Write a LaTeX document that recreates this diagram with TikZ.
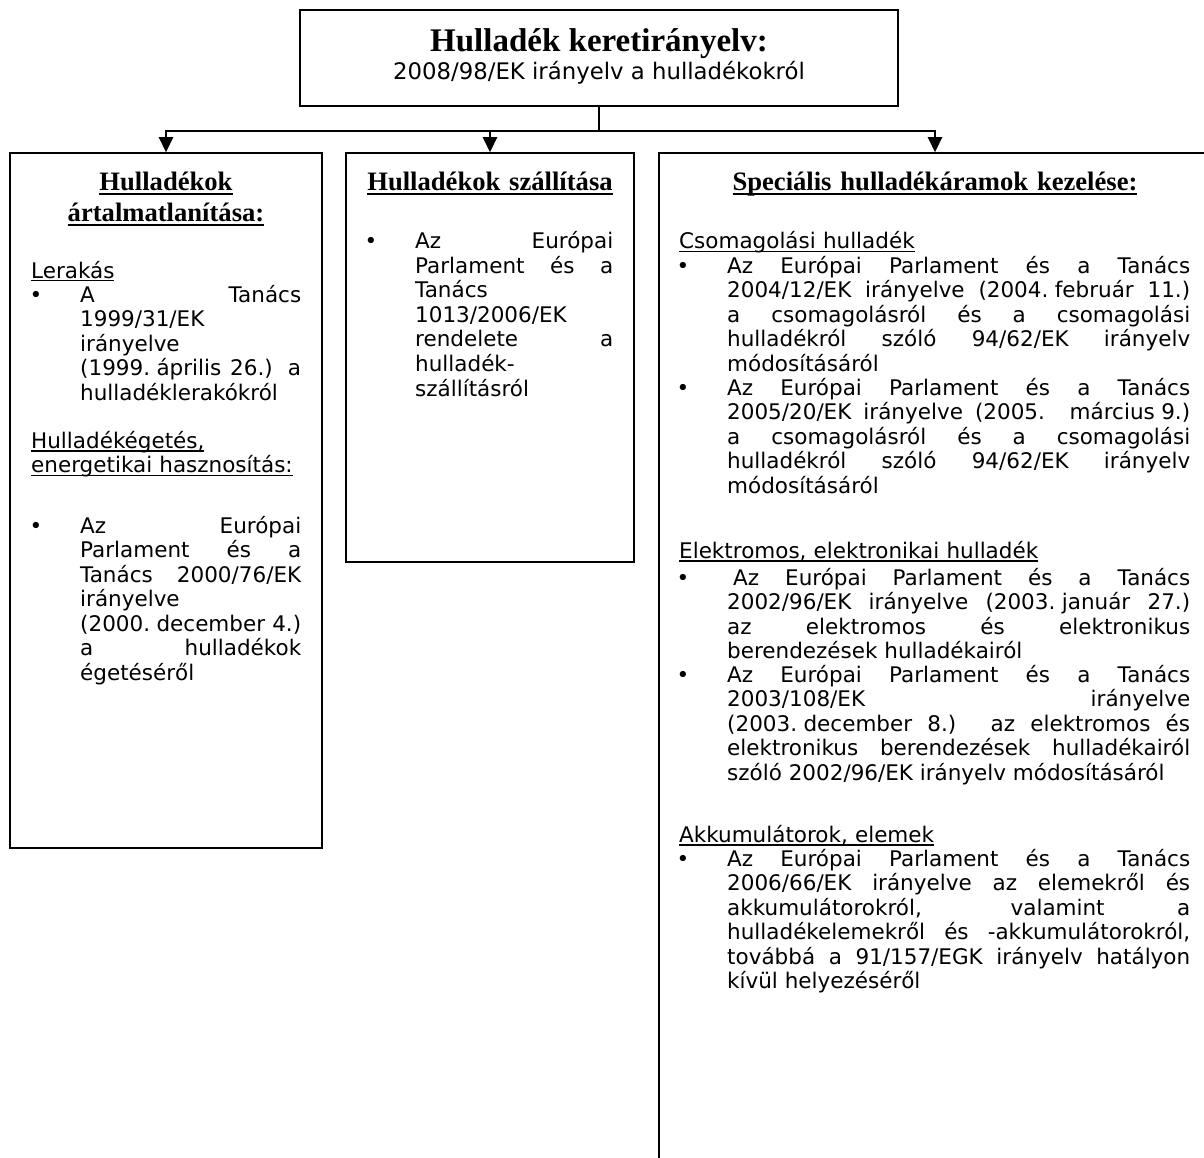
\documentclass[tikz,border=0pt]{standalone}
\usepackage{fontspec}
\setmainfont{DejaVu Sans}
\newfontfamily\headfont{Liberation Serif}
\usetikzlibrary{arrows.meta}

\newcommand{\bodysize}{\fontsize{21.5pt}{24.5pt}\selectfont\tolerance=10000\hyphenpenalty=10000\hbadness=10000}
\newcommand{\headsize}{\headfont\bfseries\fontsize{26.6pt}{30.5pt}\selectfont}
\newcommand{\undl}[2][1.3pt]{\leavevmode\setbox0\hbox{#2}\rlap{\rule[-3.5pt]{\wd0}{#1}}\box0}
\newcommand{\hundl}[1]{\leavevmode\setbox0\hbox{#1}\rlap{\rule[-4.5pt]{\wd0}{2pt}}\box0}
\newcommand{\bul}{\leavevmode\llap{\textbullet\hspace{38pt}}}
\newcommand{\fixsp}{\nobreak\hspace{.3em}}

\begin{document}
\begin{tikzpicture}[
    x=1pt, y=-1pt,
    box/.style={rectangle, draw, line width=1.5pt, inner sep=0pt},
    conn/.style={line width=2.2pt},
    arrow/.style={conn, -{Triangle[width=14pt,length=15pt]}},
    headline/.style={font=\headsize, anchor=base, inner sep=0pt, text width=300pt, align=center},
    sub/.style={font=\bodysize, anchor=base west, inner sep=0pt, text width=280pt, align=left},
    body/.style={font=\bodysize, anchor=base west, inner sep=0pt, align=justify}
]
    \useasboundingbox (0,0) rectangle (1204,1158);
    \fill[white] (0,0) rectangle (1204,1158);
    \clip (0,0) rectangle (1204,1158);

    % Framework directive
    \node[box, minimum width=598pt, minimum height=96pt] (head) at (599,58) {};
    \node[font=\headfont\bfseries\fontsize{33pt}{37pt}\selectfont, anchor=base, inner sep=0pt] (title) at (599,52) {Hulladék keretirányelv:};
    \node[font=\fontsize{22.8pt}{26pt}\selectfont, anchor=base, inner sep=0pt] (subtitle) at (599,80) {2008/98/EK irányelv a hulladékokról};

    % Three branches
    \node[box, minimum width=312pt, minimum height=695pt] (dispose) at (166,500.5) {};
    \node[box, minimum width=288pt, minimum height=409pt] (transport) at (490,357.5) {};
    \node[box, minimum width=552pt, minimum height=1047pt] (special) at (935,676.5) {};

    % Arrows
    \coordinate (bus) at (599,131);
    \draw[conn] (head.south) -- (bus);
    \draw[arrow] (bus) -| (dispose.north);
    \draw[arrow] (bus) -| (transport.north);
    \draw[arrow] (bus) -| (special.north);

    % Disposal
    \node[headline] (h1) at (166,191) {\hundl{Hulladékok}\\\hundl{ártalmatlanítása:}};
    \node[sub] (s11) at (31,278) {\undl{Lerakás}};
    \node[body, text width=221pt] (i11) at (80,302) {\bul A Tanács\linebreak 1999/31/EK\linebreak irányelve\linebreak (1999.\fixsp április 26.)  a\linebreak hulladéklerakókról};
    \node[sub] (s12) at (31,448) {\undl{Hulladékégetés,}\\\undl{energetikai hasznosítás:}};
    \node[body, text width=221pt] (i12) at (80,533) {\bul Az Európai\linebreak Parlament és a\linebreak Tanács 2000/76/EK\linebreak irányelve\linebreak (2000.\fixsp december 4.)\linebreak a hulladékok\linebreak égetéséről};

    % Shipment
    \node[headline] (h2) at (490,191) {\hundl{Hulladékok szállítása}};
    \node[body, text width=198pt] (i21) at (415,249) {\bul Az Európai\linebreak Parlament és a\linebreak Tanács\linebreak 1013/2006/EK\linebreak rendelete a\linebreak hulladék-\linebreak szállításról};

    % Special waste streams
    \node[headline, text width=540pt] (h3) at (935,191) {\hundl{Speciális hulladékáramok kezelése:}};
    \node[sub] (s31) at (679,249) {\undl{Csomagolási hulladék}};
    \node[body, text width=463pt] (i31) at (727,273) {\bul Az Európai Parlament és a Tanács\linebreak 2004/12/EK irányelve (2004.\fixsp február 11.)\linebreak a csomagolásról és a csomagolási\linebreak hulladékról szóló 94/62/EK irányelv\linebreak módosításáról};
    \node[body, text width=463pt] (i32) at (727,395) {\bul Az Európai Parlament és a Tanács\linebreak 2005/20/EK irányelve (2005. március\fixsp 9.)\linebreak a csomagolásról és a csomagolási\linebreak hulladékról szóló 94/62/EK irányelv\linebreak módosításáról};
    \node[sub] (s32) at (679,558) {\undl{Elektromos, elektronikai hulladék}};
    \node[body, text width=463pt] (i33) at (727,585) {\bul\hspace*{6pt}Az Európai Parlament és a Tanács\linebreak 2002/96/EK irányelve (2003.\fixsp január 27.)\linebreak az elektromos és elektronikus\linebreak berendezések hulladékairól};
    \node[body, text width=463pt] (i34) at (727,682) {\bul Az Európai Parlament és a Tanács\linebreak 2003/108/EK irányelve\linebreak (2003.\fixsp december 8.) az elektromos és\linebreak elektronikus berendezések hulladékairól\linebreak szóló 2002/96/EK irányelv módosításáról};
    \node[sub] (s33) at (679,842) {\undl{Akkumulátorok, elemek}};
    \node[body, text width=463pt] (i35) at (727,866) {\bul Az Európai Parlament és a Tanács\linebreak 2006/66/EK irányelve az elemekről és\linebreak akkumulátorokról, valamint a\linebreak hulladékelemekről és -akkumulátorokról,\linebreak továbbá a 91/157/EGK irányelv hatályon\linebreak kívül helyezéséről};
\end{tikzpicture}
\end{document}
